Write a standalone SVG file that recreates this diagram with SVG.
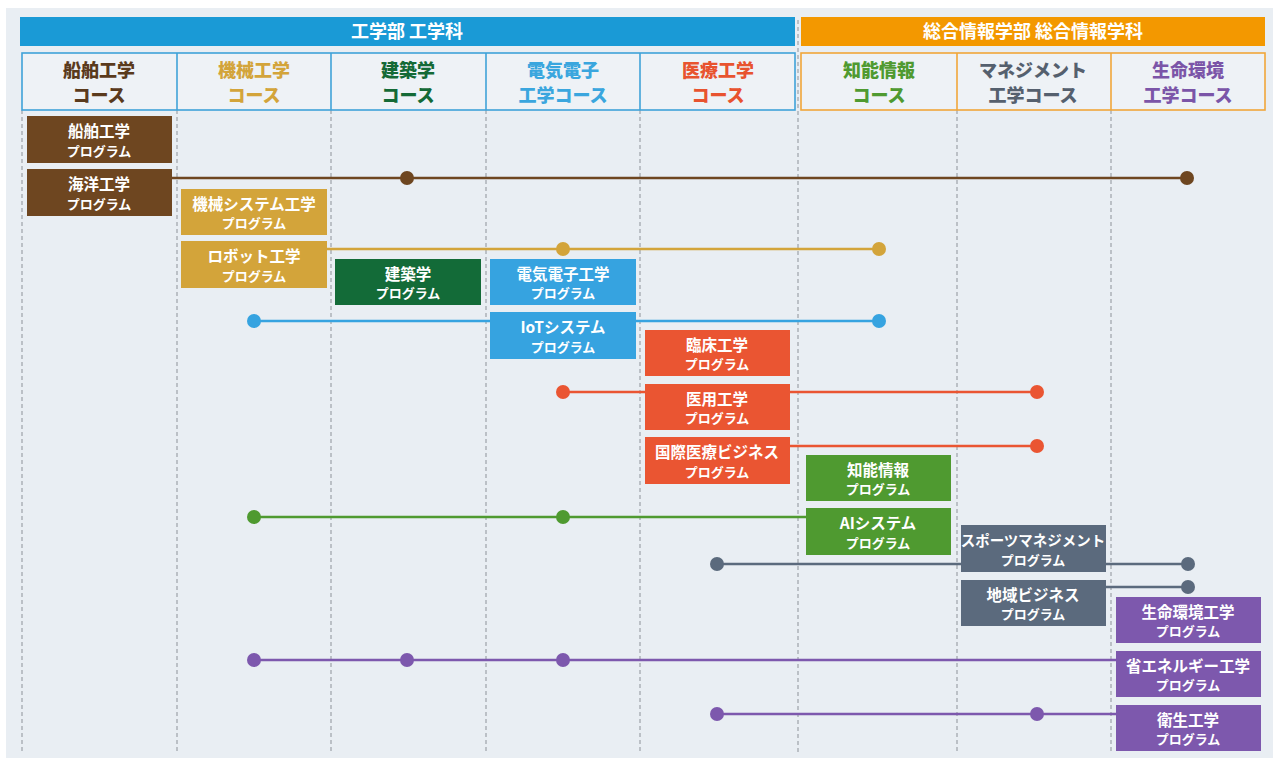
<svg xmlns="http://www.w3.org/2000/svg" width="1278" height="760" viewBox="0 0 1278 760">
<defs>
<style>
text{font-family:"Noto Sans CJK JP","Noto Sans",sans-serif;font-weight:bold;text-anchor:middle}
.bar{font-size:18px;fill:#fff}
.ch{font-size:18px;font-weight:900}
.t{fill:#fff;font-size:15.5px}
.t2{font-size:13px}
.grid{stroke:#a3a8ae;stroke-width:1.3;stroke-dasharray:4 3}
.ln{stroke-width:2.6;fill:none}
.brown{fill:#6e4620}.brownS{stroke:#6e4620}
.gold{fill:#d3a43a}.goldS{stroke:#d3a43a}
.dgreen{fill:#136b38}
.blue{fill:#36a3e0}.blueS{stroke:#36a3e0}
.red{fill:#ea5532}.redS{stroke:#ea5532}
.green{fill:#4f9a30}.greenS{stroke:#4f9a30}
.slate{fill:#5b6a7d}.slateS{stroke:#5b6a7d}
.purple{fill:#7d58ad}.purpleS{stroke:#7d58ad}
</style>
</defs>
<rect x="6" y="8" width="1267" height="750" fill="#e9eef3"/>
<g id="grid">
<line class="grid" x1="22" y1="110" x2="22" y2="752"/>
<line class="grid" x1="177" y1="110" x2="177" y2="752"/>
<line class="grid" x1="331" y1="110" x2="331" y2="752"/>
<line class="grid" x1="486" y1="110" x2="486" y2="752"/>
<line class="grid" x1="640" y1="110" x2="640" y2="752"/>
<line class="grid" x1="798" y1="20" x2="798" y2="752"/>
<line class="grid" x1="957" y1="110" x2="957" y2="752"/>
<line class="grid" x1="1111" y1="110" x2="1111" y2="752"/>
</g>
<g id="header-eng">
<rect x="20" y="17" width="775" height="29" fill="#1a9ad6"/>
<text class="bar" x="407" y="38">工学部 工学科</text>
</g>
<g id="header-info">
<rect x="801" y="17" width="464" height="29" fill="#f39800"/>
<text class="bar" x="1033" y="38">総合情報学部 総合情報学科</text>
</g>
<g id="courses-eng">
<rect x="22" y="53" width="773" height="57" fill="#eef2f6" stroke="#3fa2d9" stroke-width="1.6"/>
<line x1="177" y1="53" x2="177" y2="110" stroke="#3fa2d9" stroke-width="1.6"/>
<line x1="331" y1="53" x2="331" y2="110" stroke="#3fa2d9" stroke-width="1.6"/>
<line x1="486" y1="53" x2="486" y2="110" stroke="#3fa2d9" stroke-width="1.6"/>
<line x1="640" y1="53" x2="640" y2="110" stroke="#3fa2d9" stroke-width="1.6"/>
<text class="ch" fill="#5a3a1c"><tspan x="99" y="77">船舶工学</tspan><tspan x="99" y="102">コース</tspan></text>
<text class="ch" fill="#d3a43a"><tspan x="254" y="77">機械工学</tspan><tspan x="254" y="102">コース</tspan></text>
<text class="ch" fill="#146a36"><tspan x="408" y="77">建築学</tspan><tspan x="408" y="102">コース</tspan></text>
<text class="ch" fill="#3aa6de"><tspan x="563" y="77">電気電子</tspan><tspan x="563" y="102">工学コース</tspan></text>
<text class="ch" fill="#e8532f"><tspan x="718" y="77">医療工学</tspan><tspan x="718" y="102">コース</tspan></text>
</g>
<g id="courses-info">
<rect x="801" y="53" width="464" height="57" fill="#eef2f6" stroke="#f0a63a" stroke-width="1.6"/>
<line x1="957" y1="53" x2="957" y2="110" stroke="#f0a63a" stroke-width="1.6"/>
<line x1="1111" y1="53" x2="1111" y2="110" stroke="#f0a63a" stroke-width="1.6"/>
<text class="ch" fill="#4f9a30"><tspan x="879" y="77">知能情報</tspan><tspan x="879" y="102">コース</tspan></text>
<text class="ch" fill="#55606e"><tspan x="1033" y="77">マネジメント</tspan><tspan x="1033" y="102">工学コース</tspan></text>
<text class="ch" fill="#7b55a8"><tspan x="1188" y="77">生命環境</tspan><tspan x="1188" y="102">工学コース</tspan></text>
</g>
<g id="connectors">
<line class="ln brownS" x1="172" y1="178" x2="1187" y2="178"/>
<circle class="brown" cx="407" cy="178" r="7"/><circle class="brown" cx="1187" cy="178" r="7"/>
<line class="ln goldS" x1="327" y1="249" x2="879" y2="249"/>
<circle class="gold" cx="563" cy="249" r="7"/><circle class="gold" cx="879" cy="249" r="7"/>
<line class="ln blueS" x1="254" y1="321" x2="879" y2="321"/>
<circle class="blue" cx="254" cy="321" r="7"/><circle class="blue" cx="879" cy="321" r="7"/>
<line class="ln redS" x1="563" y1="392" x2="1037" y2="392"/>
<circle class="red" cx="563" cy="392" r="7"/><circle class="red" cx="1037" cy="392" r="7"/>
<line class="ln redS" x1="790" y1="446" x2="1037" y2="446"/>
<circle class="red" cx="1037" cy="446" r="7"/>
<line class="ln greenS" x1="254" y1="517" x2="806" y2="517"/>
<circle class="green" cx="254" cy="517" r="7"/><circle class="green" cx="563" cy="517" r="7"/>
<line class="ln slateS" x1="717" y1="564" x2="1188" y2="564"/>
<circle class="slate" cx="717" cy="564" r="7"/><circle class="slate" cx="1188" cy="564" r="7"/>
<line class="ln slateS" x1="1106" y1="587" x2="1188" y2="587"/>
<circle class="slate" cx="1188" cy="587" r="7"/>
<line class="ln purpleS" x1="254" y1="660" x2="1116" y2="660"/>
<circle class="purple" cx="254" cy="660" r="7"/><circle class="purple" cx="407" cy="660" r="7"/><circle class="purple" cx="563" cy="660" r="7"/>
<line class="ln purpleS" x1="717" y1="714" x2="1116" y2="714"/>
<circle class="purple" cx="717" cy="714" r="7"/><circle class="purple" cx="1037" cy="714" r="7"/>
</g>
<g id="p-senpaku"><rect class="brown" x="27" y="116" width="145" height="47"/><text class="t"><tspan x="99" y="137">船舶工学</tspan><tspan class="t2" x="99" y="156">プログラム</tspan></text></g>
<g id="p-kaiyo"><rect class="brown" x="27" y="169" width="145" height="47"/><text class="t"><tspan x="99" y="190">海洋工学</tspan><tspan class="t2" x="99" y="209">プログラム</tspan></text></g>
<g id="p-kikai"><rect class="gold" x="181" y="189" width="146" height="46"/><text class="t"><tspan x="254" y="210">機械システム工学</tspan><tspan class="t2" x="254" y="228">プログラム</tspan></text></g>
<g id="p-robot"><rect class="gold" x="181" y="241" width="146" height="47"/><text class="t"><tspan x="254" y="262">ロボット工学</tspan><tspan class="t2" x="254" y="281">プログラム</tspan></text></g>
<g id="p-kenchiku"><rect class="dgreen" x="335" y="259" width="146" height="46"/><text class="t"><tspan x="408" y="280">建築学</tspan><tspan class="t2" x="408" y="298">プログラム</tspan></text></g>
<g id="p-denki"><rect class="blue" x="490" y="259" width="146" height="46"/><text class="t"><tspan x="563" y="280">電気電子工学</tspan><tspan class="t2" x="563" y="298">プログラム</tspan></text></g>
<g id="p-iot"><rect class="blue" x="490" y="312" width="146" height="47"/><text class="t"><tspan x="563" y="333">IoTシステム</tspan><tspan class="t2" x="563" y="352">プログラム</tspan></text></g>
<g id="p-rinsho"><rect class="red" x="645" y="330" width="145" height="46"/><text class="t"><tspan x="717" y="351">臨床工学</tspan><tspan class="t2" x="717" y="369">プログラム</tspan></text></g>
<g id="p-iyo"><rect class="red" x="645" y="384" width="145" height="46"/><text class="t"><tspan x="717" y="405">医用工学</tspan><tspan class="t2" x="717" y="423">プログラム</tspan></text></g>
<g id="p-kokusai"><rect class="red" x="645" y="437" width="145" height="47"/><text class="t"><tspan x="717" y="458">国際医療ビジネス</tspan><tspan class="t2" x="717" y="477">プログラム</tspan></text></g>
<g id="p-chino"><rect class="green" x="806" y="455" width="145" height="46"/><text class="t"><tspan x="878" y="476">知能情報</tspan><tspan class="t2" x="878" y="494">プログラム</tspan></text></g>
<g id="p-ai"><rect class="green" x="806" y="508" width="145" height="47"/><text class="t"><tspan x="878" y="529">AIシステム</tspan><tspan class="t2" x="878" y="548">プログラム</tspan></text></g>
<g id="p-sports"><rect class="slate" x="961" y="525" width="145" height="47"/><text class="t"><tspan x="1033" y="546" style="font-size:14.5px">スポーツマネジメント</tspan><tspan class="t2" x="1033" y="565">プログラム</tspan></text></g>
<g id="p-chiiki"><rect class="slate" x="961" y="580" width="145" height="46"/><text class="t"><tspan x="1033" y="601">地域ビジネス</tspan><tspan class="t2" x="1033" y="619">プログラム</tspan></text></g>
<g id="p-seimei"><rect class="purple" x="1116" y="597" width="145" height="46"/><text class="t"><tspan x="1188" y="618">生命環境工学</tspan><tspan class="t2" x="1188" y="636">プログラム</tspan></text></g>
<g id="p-shoene"><rect class="purple" x="1116" y="651" width="145" height="46"/><text class="t"><tspan x="1188" y="672">省エネルギー工学</tspan><tspan class="t2" x="1188" y="690">プログラム</tspan></text></g>
<g id="p-eisei"><rect class="purple" x="1116" y="705" width="145" height="46"/><text class="t"><tspan x="1188" y="726">衛生工学</tspan><tspan class="t2" x="1188" y="744">プログラム</tspan></text></g>
</svg>
